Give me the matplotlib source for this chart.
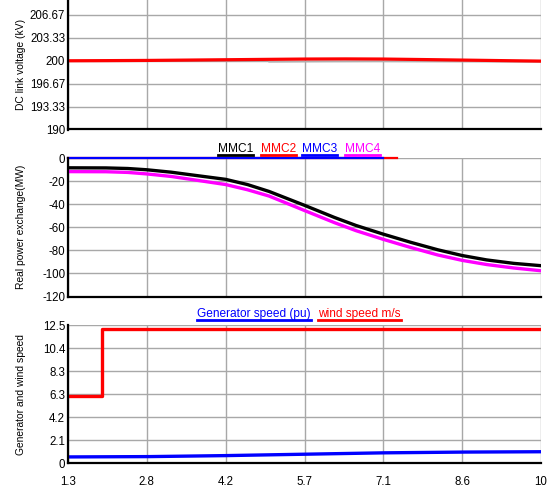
import numpy as np
import matplotlib
matplotlib.use("Agg")
import matplotlib.pyplot as plt
from matplotlib.lines import Line2D

plt.rcParams['font.family'] = ['Liberation Sans', 'DejaVu Sans']
plt.rcParams['axes.unicode_minus'] = False

# time axis (s)
t_ticks = [1.3, 2.75, 4.2, 5.65, 7.1, 8.55, 10.0]
t_tick_labels = ['1.3', '2.8', '4.2', '5.7', '7.1', '8.6', '10']

# DC link voltage (kV)
t_dc = [1.3, 2.0, 2.75, 3.5, 4.2, 4.9, 5.65, 6.4, 7.1, 7.8, 8.55, 9.3, 10.0]
v_dc = [200.0, 200.02, 200.05, 200.1, 200.15, 200.2, 200.25, 200.27, 200.25, 200.18, 200.1, 200.02, 199.95]
t_dc_grey = [5.0, 6.0, 7.0, 8.0, 9.0, 10.0]
v_dc_grey = [199.85, 199.9, 199.92, 199.9, 199.88, 199.85]
dc_ticks = [190, 193.33, 196.67, 200, 203.33, 206.67]
dc_tick_labels = ['190', '193.33', '196.67', '200', '203.33', '206.67']

# real power exchange (MW)
t_p = [1.3, 2.0, 2.4, 2.75, 3.2, 3.6, 4.2, 4.6, 5.0, 5.65, 6.2, 6.6, 7.1, 7.6, 8.1, 8.55, 9.0, 9.5, 10.0]
p_mmc1 = [-8.5, -8.6, -9.1, -10.2, -12.3, -14.8, -18.5, -23, -29, -41, -51.5, -58.5, -66, -73, -79.5, -84.5, -88.3, -91.3, -93.3]
p_mmc4 = [-11.8, -11.9, -12.5, -13.8, -16, -18.8, -23, -27.5, -33, -45.5, -56, -63, -70.5, -77.5, -84, -88.7, -92.3, -95.3, -97.7]
t_mmc2 = [1.3, 7.35]
p_mmc2 = [0, 0]
t_mmc3 = [1.3, 7.1]
p_mmc3 = [0, 0]
p_ticks = [-120, -100, -80, -60, -40, -20, 0]

# generator and wind speed
t_wind = [1.3, 1.93, 1.93, 10.0]
v_wind = [6.07, 6.07, 12.1, 12.1]
t_gen = [1.3, 2.8, 4.2, 5.7, 7.1, 8.6, 10.0]
v_gen = [0.55, 0.58, 0.67, 0.8, 0.92, 0.99, 1.02]
s_ticks = [0, 12.5 / 6, 12.5 * 2 / 6, 12.5 * 3 / 6, 12.5 * 4 / 6, 12.5 * 5 / 6, 12.5]
s_tick_labels = ['0', '2.1', '4.2', '6.3', '8.3', '10.4', '12.5']

fig = plt.figure(figsize=(5.5, 4.9), dpi=100)
W, H = 550.0, 490.0
L, R = 68 / W, 541 / W

ax1 = fig.add_axes([L, 1 - 129.5 / H, R - L, 129.5 / H])
ax2 = fig.add_axes([L, 1 - 296.5 / H, R - L, 138.5 / H])
ax3 = fig.add_axes([L, 1 - 463 / H, R - L, 138 / H])

for ax in (ax1, ax2, ax3):
    ax.set_xlim(1.3, 10.0)
    ax.set_xticks(t_ticks)
    ax.grid(True, color='#a8a8a8', lw=1.0)
    ax.set_axisbelow(True)
    ax.spines['top'].set_visible(False)
    ax.spines['right'].set_visible(False)
    ax.spines['left'].set_linewidth(1.6)
    ax.spines['bottom'].set_linewidth(1.6)
    ax.tick_params(length=0, labelsize=8.3, pad=2)

ax1.set_xticklabels([])
ax2.set_xticklabels([])
ax3.set_xticklabels(t_tick_labels)
ax3.tick_params(axis='x', pad=9)

# top panel
ax1.plot(t_dc_grey, v_dc_grey, color='#b0b0b0', lw=1.2)
ax1.plot(t_dc, v_dc, color='red', lw=2.3)
ax1.set_ylim(190, 208.84)
ax1.set_yticks(dc_ticks)
ax1.set_yticklabels(dc_tick_labels)
ax1.set_ylabel('DC link voltage (kV)', fontsize=7.4)

# middle panel
ax2.plot(t_p, p_mmc1, color='black', lw=2.4, label='MMC1')
ax2.plot(t_mmc2, p_mmc2, color='red', lw=1.6, label='MMC2', clip_on=False)
ax2.plot(t_mmc3, p_mmc3, color='blue', lw=1.6, label='MMC3', clip_on=False)
ax2.plot(t_p, p_mmc4, color='magenta', lw=2.4, label='MMC4')
ax2.set_ylim(-120, 0)
ax2.set_yticks(p_ticks)
ax2.set_ylabel('Real power exchange(MW)', fontsize=7.4)

# bottom panel
ax3.plot(t_wind, v_wind, color='red', lw=2.4)
ax3.plot(t_gen, v_gen, color='blue', lw=2.4)
ax3.set_ylim(0, 12.5)
ax3.set_yticks(s_ticks)
ax3.set_yticklabels(s_tick_labels)
ax3.set_ylabel('Generator and wind speed', fontsize=7.4)

for ax in (ax1, ax2, ax3):
    ax.yaxis.set_label_coords(-0.089, 0.5)

# underlined legend texts
fig.canvas.draw()
renderer = fig.canvas.get_renderer()


def underlined(x, y, text, color):
    tx = fig.text(x / W, 1 - y / H, text, color=color, fontsize=8.6,
                  ha='left', va='baseline')
    bb = tx.get_window_extent(renderer)
    yl = (H - y) - 3
    fig.add_artist(Line2D([bb.x0 / W, bb.x1 / W], [yl / H, yl / H],
                          color=color, lw=2.0, transform=fig.transFigure))


underlined(218, 152, 'MMC1', 'black')
underlined(261, 152, 'MMC2', 'red')
underlined(302, 152, 'MMC3', 'blue')
underlined(345, 152, 'MMC4', 'magenta')
underlined(197, 317, 'Generator speed (pu)', 'blue')
underlined(318, 317, 'wind speed m/s', 'red')

fig.savefig('out.png', dpi=100)
